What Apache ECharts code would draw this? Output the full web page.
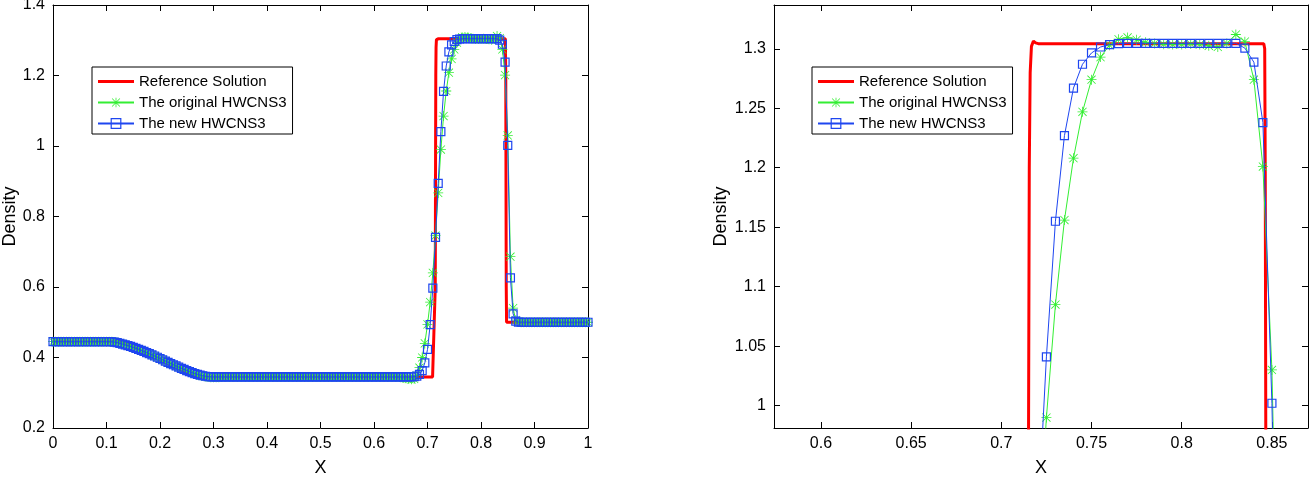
<!DOCTYPE html>
<html>
<head>
<meta charset="utf-8">
<script src="https://cdn.jsdelivr.net/npm/echarts@6/dist/echarts.min.js"></script>
<style>
html, body { margin: 0; padding: 0; background: #fff; }
#main { width: 1309px; height: 477px; }
</style>
</head>
<body>
<div id="main"></div>
<script>
// grid points of the numerical solutions (dx = 0.005)
var xGrid = [
0,0.005,0.01,0.015,0.02,0.025,0.03,0.035,0.04,0.045,
0.05,0.055,0.06,0.065,0.07,0.075,0.08,0.085,0.09,0.095,
0.1,0.105,0.11,0.115,0.12,0.125,0.13,0.135,0.14,0.145,
0.15,0.155,0.16,0.165,0.17,0.175,0.18,0.185,0.19,0.195,
0.2,0.205,0.21,0.215,0.22,0.225,0.23,0.235,0.24,0.245,
0.25,0.255,0.26,0.265,0.27,0.275,0.28,0.285,0.29,0.295,
0.3,0.305,0.31,0.315,0.32,0.325,0.33,0.335,0.34,0.345,
0.35,0.355,0.36,0.365,0.37,0.375,0.38,0.385,0.39,0.395,
0.4,0.405,0.41,0.415,0.42,0.425,0.43,0.435,0.44,0.445,
0.45,0.455,0.46,0.465,0.47,0.475,0.48,0.485,0.49,0.495,
0.5,0.505,0.51,0.515,0.52,0.525,0.53,0.535,0.54,0.545,
0.55,0.555,0.56,0.565,0.57,0.575,0.58,0.585,0.59,0.595,
0.6,0.605,0.61,0.615,0.62,0.625,0.63,0.635,0.64,0.645,
0.65,0.655,0.66,0.665,0.67,0.675,0.68,0.685,0.69,0.695,
0.7,0.705,0.71,0.715,0.72,0.725,0.73,0.735,0.74,0.745,
0.75,0.755,0.76,0.765,0.77,0.775,0.78,0.785,0.79,0.795,
0.8,0.805,0.81,0.815,0.82,0.825,0.83,0.835,0.84,0.845,
0.85,0.855,0.86,0.865,0.87,0.875,0.88,0.885,0.89,0.895,
0.9,0.905,0.91,0.915,0.92,0.925,0.93,0.935,0.94,0.945,
0.95,0.955,0.96,0.965,0.97,0.975,0.98,0.985,0.99,0.995,
1
];

// The original HWCNS3
var rhoOriginal = [
0.445,0.445,0.445,0.445,0.445,0.445,0.445,0.445,0.445,0.445,
0.445,0.445,0.445,0.445,0.445,0.445,0.445,0.445,0.445,0.445,
0.445,0.445,0.4448,0.4440,0.4425,0.4405,0.4383,0.4360,0.4337,0.4313,
0.4287,0.4260,0.4231,0.4201,0.4170,0.4139,0.4107,0.4074,0.4040,0.4005,
0.3970,0.3934,0.3898,0.3862,0.3827,0.3792,0.3758,0.3724,0.3691,0.3659,
0.3628,0.3598,0.3569,0.3542,0.3517,0.3495,0.3476,0.3461,0.3450,0.3443,
0.3440,0.3440,0.3442,0.3445,0.3447,0.3448,0.3448,0.3448,0.3448,0.3448,
0.3448,0.3448,0.3448,0.3448,0.3448,0.3448,0.3448,0.3448,0.3448,0.3448,
0.3448,0.3448,0.3448,0.3448,0.3448,0.3448,0.3448,0.3448,0.3448,0.3448,
0.3448,0.3448,0.3448,0.3448,0.3448,0.3448,0.3448,0.3448,0.3448,0.3448,
0.3448,0.3448,0.3448,0.3448,0.3448,0.3448,0.3448,0.3448,0.3448,0.3448,
0.3448,0.3448,0.3448,0.3448,0.3448,0.3448,0.3448,0.3448,0.3448,0.3448,
0.3448,0.3448,0.3448,0.3448,0.3448,0.3448,0.3448,0.3448,0.3448,0.3446,
0.3440,0.3428,0.3410,0.3390,0.3380,0.3395,0.3490,0.3710,0.4000,0.4400,
0.4940,0.5570,0.6400,0.7460,0.8670,0.9900,1.0850,1.1560,1.2080,1.2470,
1.2740,1.2930,1.3030,1.3080,1.3095,1.3075,1.3055,1.3045,1.3038,1.3035,
1.3036,1.3040,1.3035,1.3025,1.3015,1.3045,1.3120,1.3060,1.2740,1.2010,
1.0300,0.6860,0.5400,0.5060,0.5008,0.5,0.5,0.5,0.5,0.5,
0.5,0.5,0.5,0.5,0.5,0.5,0.5,0.5,0.5,0.5,
0.5,0.5,0.5,0.5,0.5,0.5,0.5,0.5,0.5,0.5,
0.5
];

// The new HWCNS3
var rhoNew = [
0.445,0.445,0.445,0.445,0.445,0.445,0.445,0.445,0.445,0.445,
0.445,0.445,0.445,0.445,0.445,0.445,0.445,0.445,0.445,0.445,
0.445,0.445,0.4447,0.4438,0.4422,0.4402,0.4380,0.4358,0.4336,0.4313,
0.4288,0.4261,0.4232,0.4203,0.4172,0.4141,0.4109,0.4076,0.4042,0.4007,
0.3972,0.3936,0.3900,0.3864,0.3829,0.3794,0.3760,0.3726,0.3693,0.3661,
0.3630,0.3600,0.3572,0.3545,0.3521,0.3500,0.3482,0.3468,0.3458,0.3452,
0.3449,0.3448,0.3448,0.3448,0.3448,0.3448,0.3448,0.3448,0.3448,0.3448,
0.3448,0.3448,0.3448,0.3448,0.3448,0.3448,0.3448,0.3448,0.3448,0.3448,
0.3448,0.3448,0.3448,0.3448,0.3448,0.3448,0.3448,0.3448,0.3448,0.3448,
0.3448,0.3448,0.3448,0.3448,0.3448,0.3448,0.3448,0.3448,0.3448,0.3448,
0.3448,0.3448,0.3448,0.3448,0.3448,0.3448,0.3448,0.3448,0.3448,0.3448,
0.3448,0.3448,0.3448,0.3448,0.3448,0.3448,0.3448,0.3448,0.3448,0.3448,
0.3448,0.3448,0.3448,0.3448,0.3448,0.3448,0.3448,0.3448,0.3448,0.3448,
0.3448,0.3448,0.3448,0.3448,0.3449,0.3454,0.3470,0.3520,0.3630,0.3850,
0.4230,0.4930,0.5970,0.7410,0.8940,1.0410,1.1550,1.2270,1.2670,1.2870,
1.2965,1.3015,1.3035,1.3043,1.3046,1.3046,1.3046,1.3046,1.3046,1.3046,
1.3046,1.3046,1.3046,1.3046,1.3046,1.3046,1.3046,1.3006,1.2887,1.2380,
1.0020,0.6260,0.5240,0.5030,0.5003,0.5,0.5,0.5,0.5,0.5,
0.5,0.5,0.5,0.5,0.5,0.5,0.5,0.5,0.5,0.5,
0.5,0.5,0.5,0.5,0.5,0.5,0.5,0.5,0.5,0.5,
0.5
];

// reference solution (red)
var refX = [0, 0.131, 0.15, 0.175, 0.2, 0.225, 0.25, 0.272, 0.7095, 0.7125, 0.7145, 0.7151, 0.7155, 0.716, 0.7167, 0.7178, 0.719, 0.7205, 0.8455, 0.846, 0.8463, 0.8466, 0.8472, 0.8478, 1];
var refRho = [0.445, 0.445, 0.4303, 0.4113, 0.3930, 0.3753, 0.3583, 0.3447, 0.3447, 0.346, 0.6, 0.98, 1.2, 1.28, 1.302, 1.3065, 1.305, 1.3043, 1.3043, 1.300, 1.2, 0.98, 0.6, 0.5, 0.5];

var seriesNames = ['Reference Solution', 'The original HWCNS3', 'The new HWCNS3'];

// tick labels
var leftXTicks = [0, 0.1, 0.2, 0.3, 0.4, 0.5, 0.6, 0.7, 0.8, 0.9, 1];
var leftYTicks = [0.2, 0.4, 0.6, 0.8, 1, 1.2, 1.4];
var zoomXTicks = [0.6, 0.65, 0.7, 0.75, 0.8, 0.85];
var zoomYTicks = [1, 1.05, 1.1, 1.15, 1.2, 1.25, 1.3];

// axis ranges
var zoomXRange = [0.574, 0.87];
var zoomYRange = [0.9812, 1.3368];

var RED = '#ff0000', GREEN = '#33ee33', BLUE = '#1e46f0';
var FONT = 'Liberation Sans, Arial, Helvetica, sans-serif';
var STAR = 'path://M0 9.2H20V10.8H0Z M9.2 0H10.8V20H9.2Z M2.4 1.3L18.7 17.6L17.6 18.7L1.3 2.4Z M17.6 1.3L18.7 2.4L2.4 18.7L1.3 17.6Z';

function zip(xs, ys) {
    var out = [];
    for (var i = 0; i < xs.length; i++) out.push([xs[i], ys[i]]);
    return out;
}

// one axis; o: {grid, pos, min, max, interval, labels, line, ticks, name, gap, show}
function makeAxis(o) {
    return {
        type: 'value',
        show: o.show !== false,
        gridIndex: o.grid,
        position: o.pos,
        min: o.min,
        max: o.max,
        interval: o.interval,
        name: o.name || '',
        nameLocation: 'middle',
        nameGap: o.gap || 0,
        nameTextStyle: { color: '#000', fontSize: 18, fontFamily: FONT },
        axisLine: { show: o.line !== false, onZero: false, lineStyle: { color: '#000', width: 1 } },
        axisTick: { show: o.ticks !== false, inside: true, length: 6, lineStyle: { color: '#000', width: 1 } },
        axisLabel: {
            show: !!o.labels,
            customValues: o.labels || undefined,
            margin: 8,
            color: '#000',
            fontSize: 16,
            fontFamily: FONT
        },
        splitLine: { show: false }
    };
}

function makeLegend(left) {
    return {
        orient: 'vertical',
        left: left,
        top: 67,
        padding: [7, 6, 3, 5],
        itemWidth: 36,
        itemHeight: 12,
        itemGap: 6,
        borderColor: '#000',
        borderWidth: 1,
        backgroundColor: '#fff',
        selectedMode: false,
        textStyle: { color: '#000', fontSize: 15, fontFamily: FONT },
        data: [
            { name: seriesNames[0], icon: 'path://M0 0H36V3H0Z', itemStyle: { color: RED } },
            { name: seriesNames[1] },
            { name: seriesNames[2], itemStyle: { color: 'rgba(0,0,0,0)', borderColor: BLUE, borderWidth: 1.2 } }
        ]
    };
}

function makeSeries(xi, yi) {
    return [
        {
            name: seriesNames[0], type: 'line', xAxisIndex: xi, yAxisIndex: yi,
            data: zip(refX, refRho), symbol: 'none', z: 2,
            lineStyle: { color: RED, width: 3 }, itemStyle: { color: RED }
        },
        {
            name: seriesNames[1], type: 'line', xAxisIndex: xi, yAxisIndex: yi,
            data: zip(xGrid, rhoOriginal), symbol: STAR, symbolSize: 10, z: 3,
            lineStyle: { color: GREEN, width: 1 }, itemStyle: { color: GREEN }
        },
        {
            name: seriesNames[2], type: 'line', xAxisIndex: xi, yAxisIndex: yi,
            data: zip(xGrid, rhoNew), symbol: 'rect', symbolSize: 8, z: 4,
            lineStyle: { color: BLUE, width: 1 },
            itemStyle: { color: 'rgba(0,0,0,0)', borderColor: BLUE, borderWidth: 1.2 }
        }
    ];
}

// right panel frame: 774..1308 x 5..428; tick grids start at the first tick value
var L = { left: 53, top: 5, width: 535, height: 423, outerBoundsMode: 'none' };
var R = { left: 774, top: 5, width: 534, height: 423, outerBoundsMode: 'none' };
var pxX = R.width / (zoomXRange[1] - zoomXRange[0]);
var pxY = R.height / (zoomYRange[1] - zoomYRange[0]);
var tickGridX = { left: R.left + (zoomXTicks[0] - zoomXRange[0]) * pxX, top: R.top, height: R.height, outerBoundsMode: 'none' };
tickGridX.width = R.left + R.width - tickGridX.left;
var tickGridY = { left: R.left, width: R.width, top: R.top, height: (zoomYRange[1] - zoomYTicks[0]) * pxY, outerBoundsMode: 'none' };

var dom = document.getElementById('main');
var myChart = echarts.init(dom, null, { renderer: 'canvas' });

var option = {
    animation: false,
    backgroundColor: '#fff',
    grid: [L, R, tickGridX, tickGridY],
    xAxis: [
        makeAxis({ grid: 0, pos: 'bottom', min: 0, max: 1, interval: 0.1, labels: leftXTicks, name: 'X', gap: 31 }),
        makeAxis({ grid: 0, pos: 'top', min: 0, max: 1, interval: 0.1 }),
        makeAxis({ grid: 1, pos: 'bottom', min: zoomXRange[0], max: zoomXRange[1], ticks: false, name: 'X', gap: 31 }),
        makeAxis({ grid: 1, pos: 'top', min: zoomXRange[0], max: zoomXRange[1], ticks: false }),
        makeAxis({ grid: 2, pos: 'bottom', min: zoomXTicks[0], max: zoomXRange[1], interval: 0.05, labels: zoomXTicks, line: false }),
        makeAxis({ grid: 2, pos: 'top', min: zoomXTicks[0], max: zoomXRange[1], interval: 0.05, line: false }),
        makeAxis({ grid: 3, pos: 'bottom', min: 0, max: 1, show: false })
    ],
    yAxis: [
        makeAxis({ grid: 0, pos: 'left', min: 0.2, max: 1.4, interval: 0.2, labels: leftYTicks, name: 'Density', gap: 32 }),
        makeAxis({ grid: 0, pos: 'right', min: 0.2, max: 1.4, interval: 0.2 }),
        makeAxis({ grid: 1, pos: 'left', min: zoomYRange[0], max: zoomYRange[1], ticks: false, name: 'Density', gap: 44 }),
        makeAxis({ grid: 1, pos: 'right', min: zoomYRange[0], max: zoomYRange[1], ticks: false }),
        makeAxis({ grid: 2, pos: 'left', min: 0, max: 1, show: false }),
        makeAxis({ grid: 3, pos: 'left', min: zoomYTicks[0], max: zoomYRange[1], interval: 0.05, labels: zoomYTicks, line: false }),
        makeAxis({ grid: 3, pos: 'right', min: zoomYTicks[0], max: zoomYRange[1], interval: 0.05, line: false })
    ],
    legend: [makeLegend(92), makeLegend(812)],
    series: makeSeries(0, 0).concat(makeSeries(2, 2))
};

myChart.setOption(option, true);
</script>
</body>
</html>
